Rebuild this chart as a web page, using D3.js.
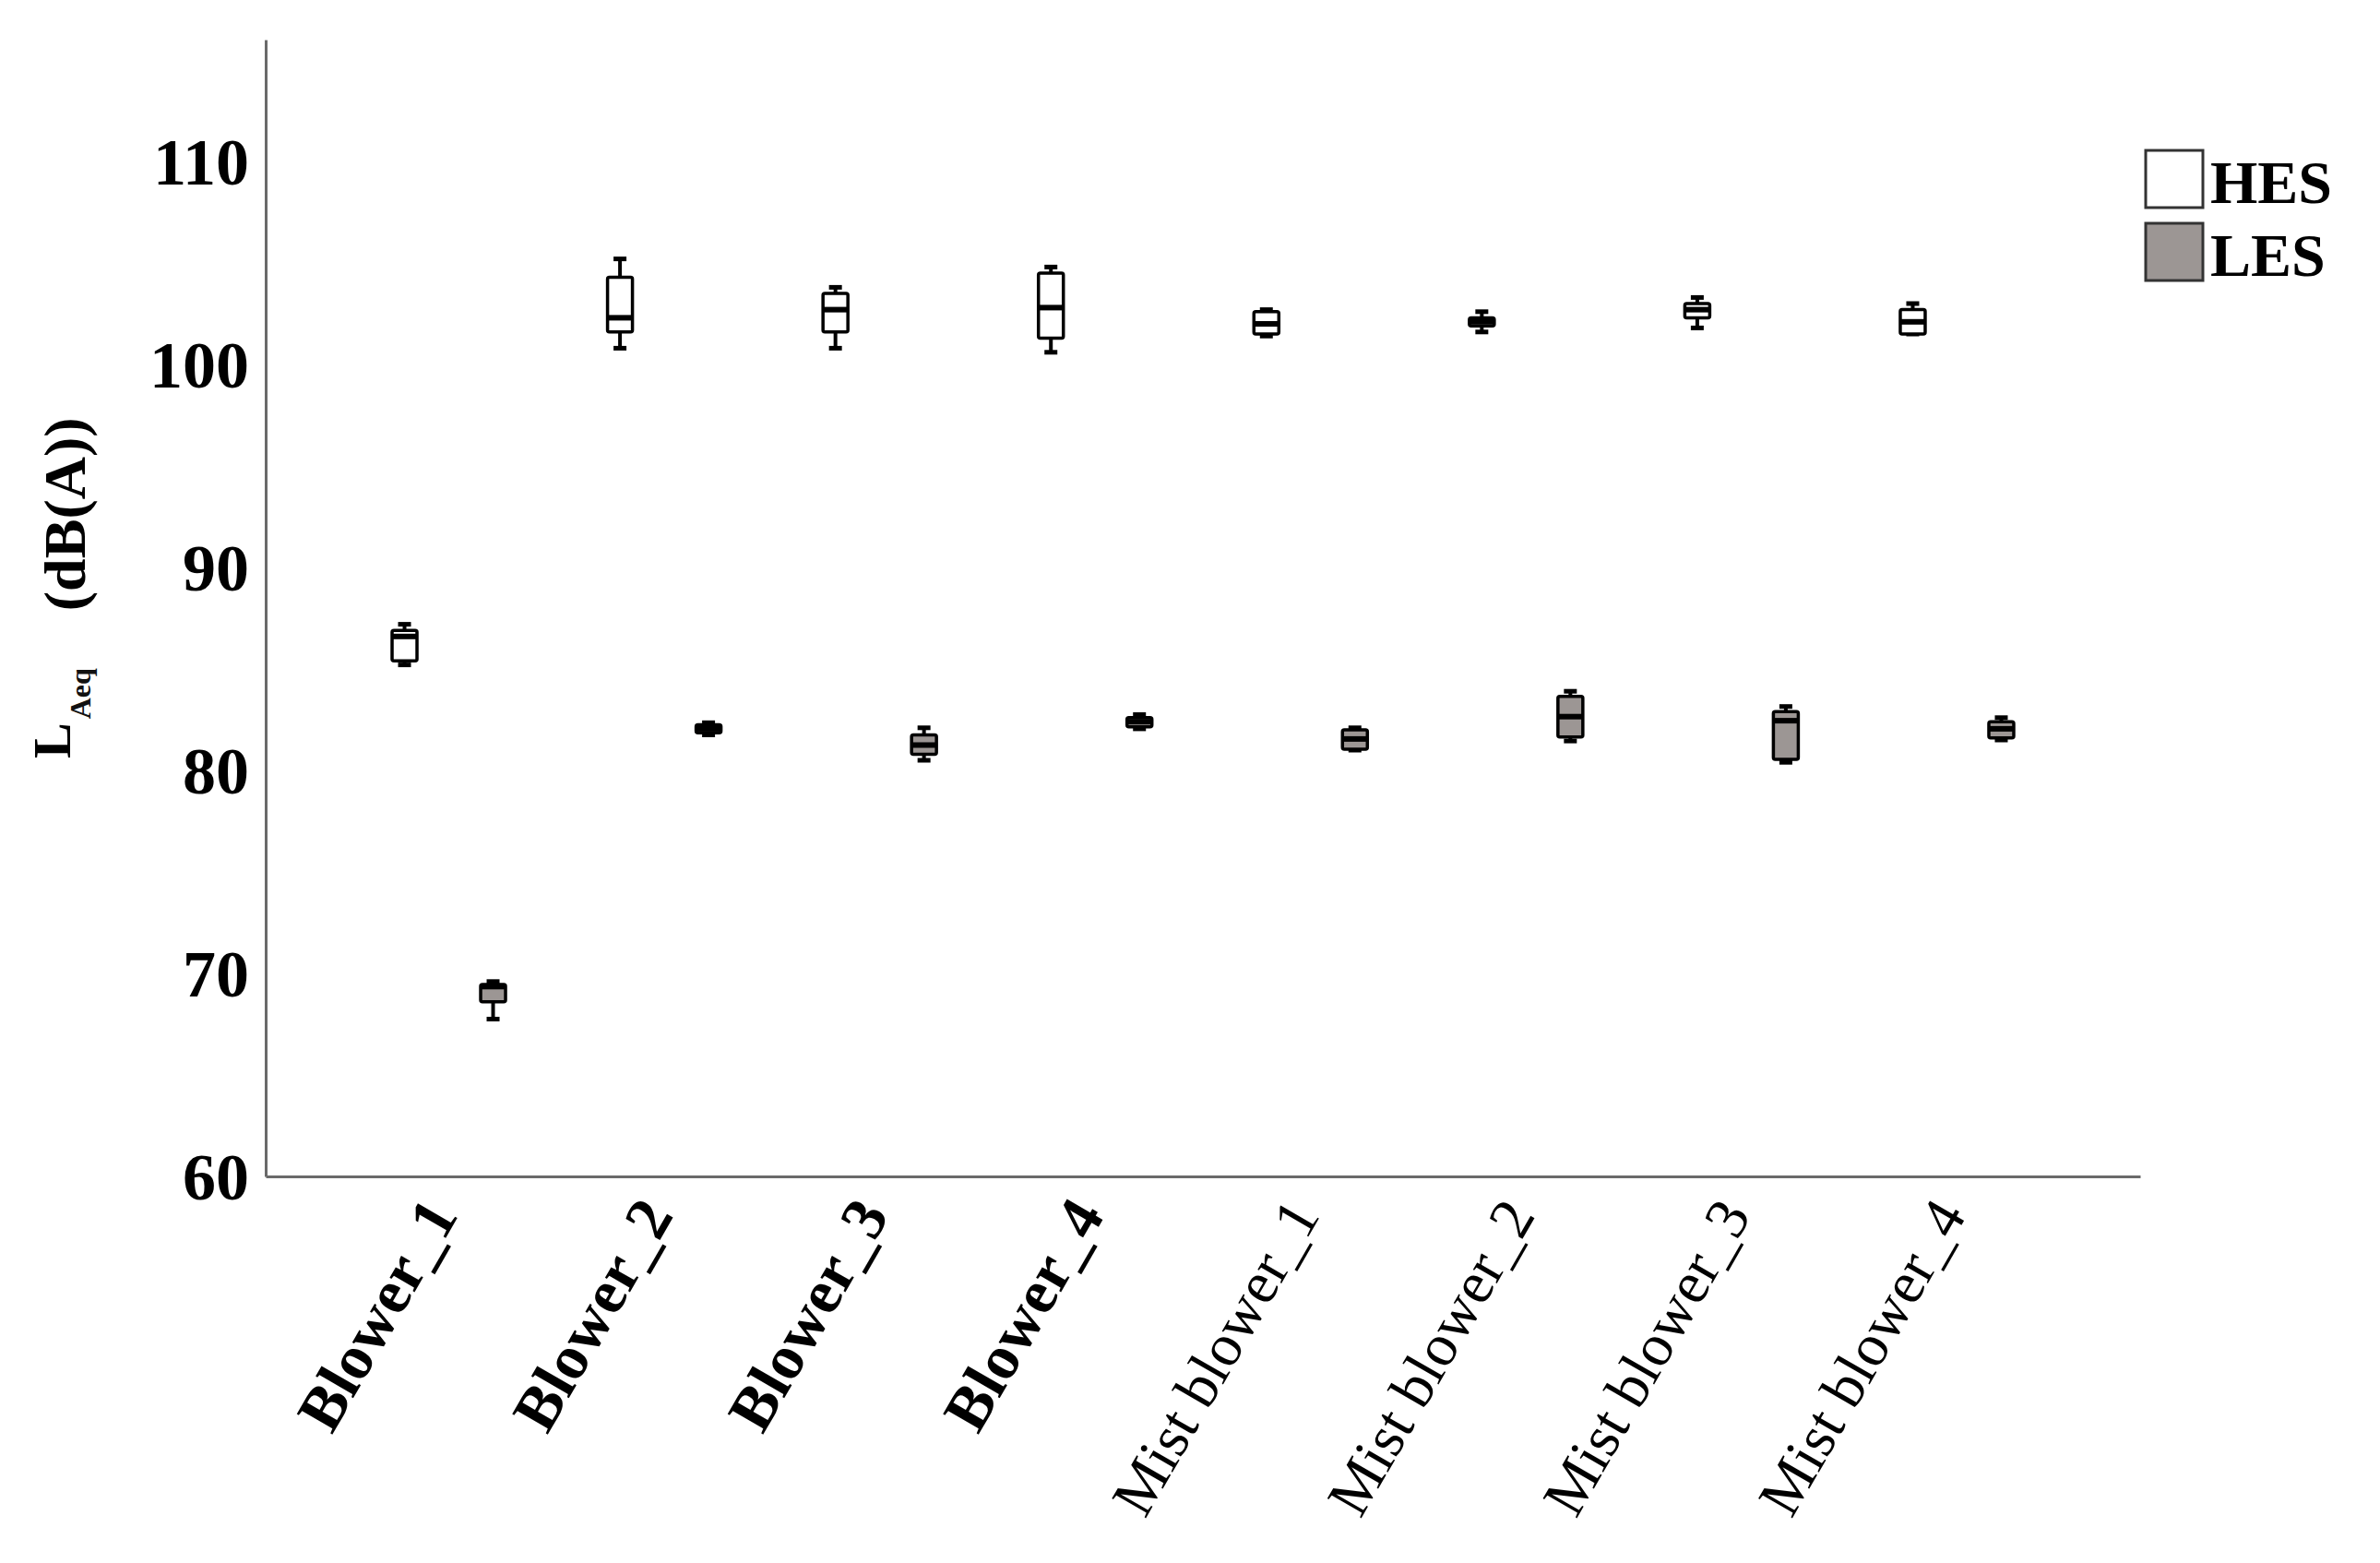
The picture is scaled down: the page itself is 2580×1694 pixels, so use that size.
<!DOCTYPE html>
<html><head><meta charset="utf-8">
<script src="https://cdn.jsdelivr.net/npm/d3@7"></script>
<style>body{margin:0;background:#fff}svg{display:block}</style>
</head><body><svg id="c" width="2580" height="1694"></svg>
<script>
// ---- data ----
const categories = ["Blower_1","Blower_2","Blower_3","Blower_4","Mist blower_1","Mist blower_2","Mist blower_3","Mist blower_4"];
const boldCategory = [true,true,true,true,false,false,false,false];
const groups = ["HES","LES"];
const hesMin = [85.2, 100.8, 100.8, 100.6, 101.4, 101.6, 101.8, 101.5];
const hesQ1  = [85.4, 101.6, 101.6, 101.3, 101.5, 101.9, 102.3, 101.5];
const hesMed = [86.6, 102.3, 102.7, 102.8, 102.0, 102.1, 102.7, 102.1];
const hesQ3  = [86.9, 104.3, 103.5, 104.5, 102.6, 102.3, 103.0, 102.7];
const hesMax = [87.2, 105.2, 103.8, 104.8, 102.7, 102.6, 103.3, 103.0];
const lesMin = [67.75, 81.75, 80.5, 82.05, 81.0, 81.45, 80.4, 81.5];
const lesQ1  = [68.6, 81.85, 80.8, 82.15, 81.05, 81.65, 80.55, 81.6];
const lesMed = [69.35, 82.05, 81.25, 82.4, 81.55, 82.65, 82.45, 82.05];
const lesQ3  = [69.45, 82.25, 81.75, 82.6, 82.0, 83.65, 82.9, 82.4];
const lesMax = [69.6, 82.35, 82.1, 82.75, 82.1, 83.9, 83.15, 82.6];
const yTicks = [60, 70, 80, 90, 100, 110];
const yDomain = [60, 116];
const yLabelMain = "L", yLabelSub = "Aeq", yLabelUnit = "(dB(A))";

// ---- layout ----
const W = 2580, H = 1694;
const mLeft = 288, mRight = 2320, mTop = 43, mBottom = 1275;
const font = "'Liberation Serif','Times New Roman',Times,serif";
const lesFill = "#9c9694";

const svg = d3.select("#c");
svg.append("rect").attr("width", W).attr("height", H).attr("fill", "#fff");

const x = d3.scaleBand().domain(categories).range([mLeft, mRight]).paddingInner(0).paddingOuter(0.35);
const xs = d3.scalePoint().domain(groups).range([-48, 48]);
const y = d3.scaleLinear().domain(yDomain).range([mBottom, mTop]);

// y axis
const gy = svg.append("g").attr("transform", `translate(${mLeft},0)`)
  .call(d3.axisLeft(y).tickValues(yTicks).tickSize(0).tickSizeOuter(0).tickPadding(18).tickFormat(d3.format("d")));
gy.select(".domain").attr("stroke", "#6a6a6a").attr("stroke-width", 3);
gy.selectAll("text").attr("font-family", font).attr("font-weight", "bold").attr("font-size", 72).attr("fill", "#000").attr("dy", "0.34em");

// x axis
const gx = svg.append("g").attr("transform", `translate(0,${mBottom})`)
  .call(d3.axisBottom(x).tickSize(0).tickSizeOuter(0));
gx.select(".domain").attr("stroke", "#6a6a6a").attr("stroke-width", 3);
gx.selectAll("text")
  .attr("font-family", font).attr("fill", "#000")
  .attr("font-size", (d, i) => boldCategory[i] ? 68 : 65)
  .attr("font-weight", (d, i) => boldCategory[i] ? "bold" : "normal")
  .attr("text-anchor", "end").attr("x", 0).attr("y", 0).attr("dy", 0)
  .attr("transform", "translate(11,42) rotate(-60)");

// y axis title
const yt = svg.append("text").attr("transform", "translate(98,822) rotate(-90)")
  .attr("font-family", font).attr("font-weight", "bold").attr("fill", "#000");
yt.append("tspan").attr("font-size", 58).attr("dy", -22).text(yLabelMain);
yt.append("tspan").attr("font-size", 32).attr("dx", 4).attr("dy", 22).attr("fill", "#111").text(yLabelSub);
yt.append("tspan").attr("font-size", 64).attr("dx", 62).attr("dy", -6).text(yLabelUnit);

// boxes
const boxData = [];
categories.forEach((c, i) => {
  boxData.push({cat: c, grp: "HES", min: hesMin[i], q1: hesQ1[i], med: hesMed[i], q3: hesQ3[i], max: hesMax[i]});
  boxData.push({cat: c, grp: "LES", min: lesMin[i], q1: lesQ1[i], med: lesMed[i], q3: lesQ3[i], max: lesMax[i]});
});
const bw = 27, cw = 14;
const gb = svg.append("g").selectAll("g").data(boxData).join("g")
  .attr("transform", d => `translate(${x(d.cat) + x.bandwidth() / 2 + xs(d.grp)},0)`);
gb.append("line").attr("x1", 0).attr("x2", 0).attr("y1", d => y(d.max)).attr("y2", d => y(d.q3)).attr("stroke", "#000").attr("stroke-width", 4);
gb.append("line").attr("x1", 0).attr("x2", 0).attr("y1", d => y(d.q1)).attr("y2", d => y(d.min)).attr("stroke", "#000").attr("stroke-width", 4);
gb.append("line").attr("x1", -cw / 2).attr("x2", cw / 2).attr("y1", d => y(d.max)).attr("y2", d => y(d.max)).attr("stroke", "#000").attr("stroke-width", 5);
gb.append("line").attr("x1", -cw / 2).attr("x2", cw / 2).attr("y1", d => y(d.min)).attr("y2", d => y(d.min)).attr("stroke", "#000").attr("stroke-width", 5);
gb.append("rect").attr("x", -bw / 2).attr("width", bw)
  .attr("y", d => y(d.q3)).attr("height", d => Math.max(1, y(d.q1) - y(d.q3)))
  .attr("rx", 2)
  .attr("fill", d => d.grp === "HES" ? "#fff" : lesFill).attr("stroke", "#000").attr("stroke-width", 3.5);
gb.append("line").attr("x1", -bw / 2).attr("x2", bw / 2).attr("y1", d => y(d.med)).attr("y2", d => y(d.med)).attr("stroke", "#000").attr("stroke-width", 6);

// legend
const lg = svg.append("g").selectAll("g").data(groups).join("g")
  .attr("transform", (d, i) => `translate(2326,${163 + i * 79})`);
lg.append("rect").attr("width", 62).attr("height", 62)
  .attr("fill", d => d === "HES" ? "#fff" : lesFill).attr("stroke", "#333").attr("stroke-width", 3);
lg.append("text").attr("x", 70).attr("y", 57).attr("font-family", font).attr("font-weight", "bold")
  .attr("font-size", 66).attr("fill", "#000").text(d => d);
</script>
</body></html>
